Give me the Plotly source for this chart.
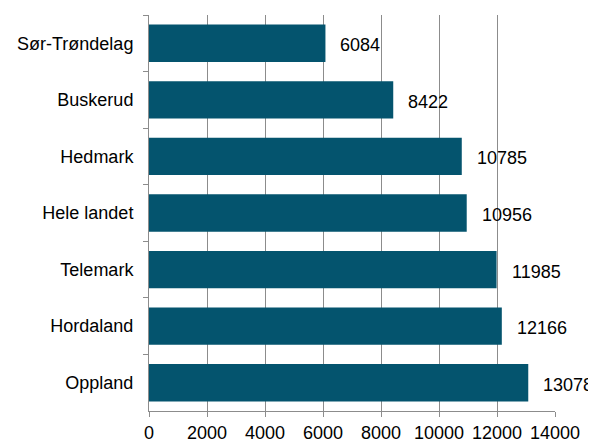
import plotly.graph_objects as go

categories = ["Sør-Trøndelag", "Buskerud", "Hedmark", "Hele landet", "Telemark", "Hordaland", "Oppland"]
values = [6084, 8422, 10785, 10956, 11985, 12166, 13078]
tick_vals = [0, 2000, 4000, 6000, 8000, 10000, 12000, 14000]

bar_color = "#04546E"
grid_color = "#8C8C8C"
font_family = "Liberation Sans, Arial, sans-serif"

fig = go.Figure()
fig.add_trace(go.Bar(
    x=values, y=categories, orientation="h",
    marker=dict(color=bar_color, line=dict(width=0)),
    hoverinfo="x+y",
))

for c, v in zip(categories, values):
    fig.add_annotation(x=v, y=c, text=str(v), showarrow=False,
                       xanchor="left", yanchor="middle", xshift=13, yshift=-2,
                       font=dict(size=18, color="#000000", family=font_family))

# The page body has an 8px default margin, so the figure is offset by 8px.
fig.update_layout(
    width=588, height=434,
    margin=dict(l=141, r=41, t=7, b=31, autoexpand=False),
    paper_bgcolor="white", plot_bgcolor="white",
    bargap=0.34,
    showlegend=False,
    font=dict(family=font_family, size=18, color="#000000"),
    xaxis=dict(
        range=[0, 14000], tickvals=tick_vals, ticktext=[str(t) for t in tick_vals],
        showgrid=True, gridcolor=grid_color, gridwidth=1,
        showline=True, linecolor=grid_color, linewidth=1,
        ticks="outside", ticklen=5, tickcolor=grid_color,
        zeroline=False, tickfont=dict(size=18), automargin=False,
        ticklabelstandoff=0,
    ),
    yaxis=dict(
        categoryorder="array", categoryarray=categories, autorange="reversed",
        showgrid=False, showline=True, linecolor=grid_color, linewidth=1,
        ticks="outside", ticklen=5, tickcolor=grid_color, tickson="boundaries",
        tickfont=dict(size=18), ticklabelstandoff=11, automargin=False,
    ),
)

fig.write_html("out.html")
